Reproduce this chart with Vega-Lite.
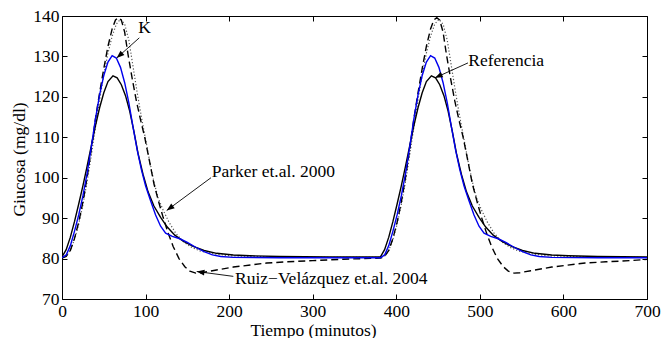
{
  "$schema": "https://vega.github.io/schema/vega-lite/v6.json",
  "autosize": {"type": "none"},
  "padding": {"left": 62, "top": 16, "right": 14, "bottom": 39},
  "width": 585,
  "height": 283,
  "background": "white",
  "config": {
    "view": {"stroke": "black", "strokeWidth": 1},
    "font": "Liberation Serif",
    "axis": {
      "labelFont": "Liberation Serif",
      "titleFont": "Liberation Serif",
      "labelFontSize": 17.5,
      "titleFontSize": 17.5,
      "titleFontWeight": "normal",
      "labelColor": "black",
      "titleColor": "black",
      "tickColor": "black",
      "tickWidth": 1,
      "tickSize": -5,
      "labelPadding": 8,
      "domain": false,
      "grid": false,
      "labelFlush": false,
      "labelOverlap": false
    }
  },
  "datasets": {
    "ref": [
      {"t":0,"v":80.4},{"t":5,"v":82.2},{"t":10,"v":85.3},{"t":15,"v":89.2},{"t":20,"v":93.5},{"t":25,"v":98},{"t":30,"v":102.8},{"t":35,"v":107.8},{"t":40,"v":112.8},{"t":45,"v":117.3},{"t":50,"v":121},{"t":55,"v":123.8},{"t":61,"v":125.2},{"t":66,"v":124.7},{"t":71,"v":123},{"t":76,"v":120.3},{"t":81,"v":116.5},{"t":86,"v":111.5},{"t":91,"v":106},{"t":97,"v":100.8},{"t":103,"v":96.5},{"t":110,"v":93},{"t":118,"v":90.2},{"t":126,"v":87.8},{"t":135,"v":85.8},{"t":145,"v":84.3},{"t":157,"v":83},{"t":170,"v":82},{"t":185,"v":81.3},{"t":205,"v":80.9},{"t":225,"v":80.7},{"t":260,"v":80.5},{"t":320,"v":80.4},
      {"t":381,"v":80.4},{"t":386,"v":82.2},{"t":391,"v":85.3},{"t":396,"v":89.2},{"t":401,"v":93.5},{"t":406,"v":98},{"t":411,"v":102.8},{"t":416,"v":107.8},{"t":421,"v":112.8},{"t":426,"v":117.3},{"t":431,"v":121},{"t":436,"v":123.8},{"t":442,"v":125.2},{"t":447,"v":124.7},{"t":452,"v":123},{"t":457,"v":120.3},{"t":462,"v":116.5},{"t":467,"v":111.5},{"t":472,"v":106},{"t":478,"v":100.8},{"t":484,"v":96.5},{"t":491,"v":93},{"t":499,"v":90.2},{"t":507,"v":87.8},{"t":516,"v":85.8},{"t":526,"v":84.3},{"t":538,"v":83},{"t":551,"v":82},{"t":566,"v":81.3},{"t":586,"v":80.9},{"t":606,"v":80.7},{"t":641,"v":80.5},{"t":700,"v":80.4}
    ],
    "k": [
      {"t":0,"v":80.2},{"t":5,"v":80.9},{"t":10,"v":83.2},{"t":15,"v":86.8},{"t":20,"v":90.8},{"t":25,"v":95.5},{"t":30,"v":101},{"t":35,"v":107.5},{"t":40,"v":114.5},{"t":45,"v":120.5},{"t":50,"v":125.3},{"t":55,"v":128.6},{"t":60,"v":130.2},{"t":65,"v":129.6},{"t":70,"v":127.3},{"t":75,"v":123.5},{"t":80,"v":118.5},{"t":85,"v":112.5},{"t":90,"v":106.8},{"t":95,"v":102},{"t":100,"v":98},{"t":106,"v":94.3},{"t":112,"v":90.8},{"t":118,"v":88},{"t":124,"v":86.3},{"t":132,"v":85.5},{"t":141,"v":84.9},{"t":150,"v":84},{"t":160,"v":82.8},{"t":170,"v":81.7},{"t":180,"v":80.9},{"t":190,"v":80.5},{"t":205,"v":80.3},{"t":260,"v":80.2},
      {"t":381,"v":80.2},{"t":386,"v":80.9},{"t":391,"v":83.2},{"t":396,"v":86.8},{"t":401,"v":90.8},{"t":406,"v":95.5},{"t":411,"v":101},{"t":416,"v":107.5},{"t":421,"v":114.5},{"t":426,"v":120.5},{"t":431,"v":125.3},{"t":436,"v":128.6},{"t":441,"v":130.2},{"t":446,"v":129.6},{"t":451,"v":127.3},{"t":456,"v":123.5},{"t":461,"v":118.5},{"t":466,"v":112.5},{"t":471,"v":106.8},{"t":476,"v":102},{"t":481,"v":98},{"t":487,"v":94.3},{"t":493,"v":90.8},{"t":499,"v":88},{"t":505,"v":86.3},{"t":513,"v":85.5},{"t":522,"v":84.9},{"t":531,"v":84},{"t":541,"v":82.8},{"t":551,"v":81.7},{"t":561,"v":80.9},{"t":571,"v":80.5},{"t":586,"v":80.3},{"t":641,"v":80.2},{"t":700,"v":80.2}
    ],
    "ruiz": [
      {"t":0,"v":80.1},{"t":5,"v":80.5},{"t":10,"v":82},{"t":15,"v":85},{"t":20,"v":89},{"t":25,"v":94},{"t":30,"v":100},{"t":35,"v":107},{"t":40,"v":114.5},{"t":45,"v":121},{"t":50,"v":127},{"t":55,"v":132.5},{"t":60,"v":136.8},{"t":64,"v":139},{"t":67.5,"v":139.6},{"t":71,"v":139},{"t":75,"v":136},{"t":79,"v":130.5},{"t":84,"v":124.5},{"t":89,"v":119},{"t":94,"v":114.3},{"t":99,"v":110},{"t":104.5,"v":104.3},{"t":110,"v":98.5},{"t":116,"v":93.8},{"t":121,"v":90.2},{"t":127,"v":86.3},{"t":133,"v":83},{"t":140,"v":80},{"t":147,"v":78},{"t":153,"v":76.9},{"t":160,"v":76.4},{"t":167,"v":76.5},{"t":180,"v":77},{"t":205,"v":77.9},{"t":245,"v":78.9},{"t":270,"v":79.2},{"t":300,"v":79.5},{"t":345,"v":79.9},
      {"t":381,"v":80.1},{"t":386,"v":80.5},{"t":391,"v":82},{"t":396,"v":85},{"t":401,"v":89},{"t":406,"v":94},{"t":411,"v":100},{"t":416,"v":107},{"t":421,"v":114.5},{"t":426,"v":121},{"t":431,"v":127},{"t":436,"v":132.5},{"t":441,"v":136.8},{"t":445,"v":139},{"t":448.5,"v":139.6},{"t":452,"v":139},{"t":456,"v":136},{"t":460,"v":130.5},{"t":465,"v":124.5},{"t":470,"v":119},{"t":475,"v":114.3},{"t":480,"v":110},{"t":485.5,"v":104.3},{"t":491,"v":98.5},{"t":497,"v":93.8},{"t":502,"v":90.2},{"t":508,"v":86.3},{"t":514,"v":83},{"t":521,"v":80},{"t":528,"v":78},{"t":534,"v":76.9},{"t":541,"v":76.4},{"t":548,"v":76.5},{"t":561,"v":77},{"t":586,"v":77.9},{"t":626,"v":78.9},{"t":651,"v":79.2},{"t":681,"v":79.5},{"t":700,"v":79.8}
    ],
    "parker": [
      {"t":0,"v":80.3},{"t":5,"v":80.6},{"t":10,"v":82},{"t":15,"v":84.8},{"t":20,"v":88.5},{"t":25,"v":93.3},{"t":30,"v":99},{"t":35,"v":105.5},{"t":40,"v":112.5},{"t":45,"v":119.3},{"t":50,"v":125.5},{"t":55,"v":130.8},{"t":60,"v":135},{"t":65,"v":138},{"t":70,"v":139.2},{"t":75,"v":138},{"t":80,"v":134},{"t":85,"v":127.5},{"t":90,"v":121},{"t":95,"v":115},{"t":100,"v":109.5},{"t":105,"v":104},{"t":110,"v":99},{"t":115,"v":95},{"t":121,"v":92},{"t":128,"v":89},{"t":136,"v":86.3},{"t":145,"v":84.2},{"t":155,"v":82.8},{"t":165,"v":81.9},{"t":180,"v":81.2},{"t":200,"v":80.7},{"t":230,"v":80.5},{"t":280,"v":80.3},
      {"t":381,"v":80.3},{"t":386,"v":80.6},{"t":391,"v":82},{"t":396,"v":84.8},{"t":401,"v":88.5},{"t":406,"v":93.3},{"t":411,"v":99},{"t":416,"v":105.5},{"t":421,"v":112.5},{"t":426,"v":119.3},{"t":431,"v":125.5},{"t":436,"v":130.8},{"t":441,"v":135},{"t":446,"v":138},{"t":451,"v":139.2},{"t":456,"v":138},{"t":461,"v":134},{"t":466,"v":127.5},{"t":471,"v":121},{"t":476,"v":115},{"t":481,"v":109.5},{"t":486,"v":104},{"t":491,"v":99},{"t":496,"v":95},{"t":502,"v":92},{"t":509,"v":89},{"t":517,"v":86.3},{"t":526,"v":84.2},{"t":536,"v":82.8},{"t":546,"v":81.9},{"t":561,"v":81.2},{"t":581,"v":80.7},{"t":611,"v":80.5},{"t":661,"v":80.3},{"t":700,"v":80.3}
    ],
    "ann": [
      {"label":"K","tx":91.3,"ty":135.8,"x1":92.5,"y1":134.6,"x2":65.4,"y2":129.6,"ang":138.5},
      {"label":"Referencia","tx":486.2,"ty":127.6,"x1":485.8,"y1":128.4,"x2":446.3,"y2":124.7,"ang":155.1},
      {"label":"Parker et.al. 2000","tx":179.1,"ty":100.3,"x1":178.3,"y1":100,"x2":125.3,"y2":91.9,"ang":143.6},
      {"label":"Ruiz−Velázquez et.al. 2004","tx":207,"ty":73.7,"x1":205,"y1":75.6,"x2":161.2,"y2":76.8,"ang":187.8}
    ]
  },
  "layer": [
    {
      "data": {"name": "parker"},
      "mark": {"type": "line", "color": "#555555", "strokeWidth": 1.2, "strokeDash": [1.2, 2], "clip": true},
      "encoding": {
        "x": {"field": "t", "type": "quantitative", "scale": {"domain": [0, 700], "nice": false, "zero": false},
              "axis": {"orient": "bottom", "values": [0,100,200,300,400,500,600,700], "title": "Tiempo (minutos)", "titleX": 251, "titleY": 36, "titleBaseline": "alphabetic", "titleAlign": "center", "titleAnchor": null}},
        "y": {"field": "v", "type": "quantitative", "scale": {"domain": [70, 140], "nice": false, "zero": false},
              "axis": {"orient": "left", "values": [70,80,90,100,110,120,130,140], "title": "Giucosa (mg/dl)", "titleAngle": -90, "titleX": -38, "titleY": 143, "titleAlign": "center", "titleBaseline": "alphabetic", "titleAnchor": null}}
      }
    },
    {
      "data": {"name": "ruiz"},
      "mark": {"type": "line", "color": "black", "strokeWidth": 1.4, "strokeDash": [7, 4], "clip": true},
      "encoding": {
        "x": {"field": "t", "type": "quantitative", "scale": {"domain": [0, 700], "nice": false, "zero": false},
              "axis": {"orient": "top", "values": [0,100,200,300,400,500,600,700], "labels": false, "title": null}},
        "y": {"field": "v", "type": "quantitative", "scale": {"domain": [70, 140], "nice": false, "zero": false},
              "axis": {"orient": "right", "values": [70,80,90,100,110,120,130,140], "labels": false, "title": null}}
      }
    },
    {
      "data": {"name": "ref"},
      "mark": {"type": "line", "color": "black", "strokeWidth": 1.4, "clip": true},
      "encoding": {
        "x": {"field": "t", "type": "quantitative", "scale": {"domain": [0, 700], "nice": false, "zero": false}, "axis": null},
        "y": {"field": "v", "type": "quantitative", "scale": {"domain": [70, 140], "nice": false, "zero": false}, "axis": null}
      }
    },
    {
      "data": {"name": "k"},
      "mark": {"type": "line", "color": "#0000ee", "strokeWidth": 1.4, "clip": true},
      "encoding": {
        "x": {"field": "t", "type": "quantitative", "scale": {"domain": [0, 700], "nice": false, "zero": false}, "axis": null},
        "y": {"field": "v", "type": "quantitative", "scale": {"domain": [70, 140], "nice": false, "zero": false}, "axis": null}
      }
    },
    {
      "data": {"name": "ann"},
      "mark": {"type": "rule", "color": "black", "strokeWidth": 0.9},
      "encoding": {
        "x": {"field": "x1", "type": "quantitative", "scale": {"domain": [0, 700], "nice": false, "zero": false}, "axis": null},
        "y": {"field": "y1", "type": "quantitative", "scale": {"domain": [70, 140], "nice": false, "zero": false}, "axis": null},
        "x2": {"field": "x2"},
        "y2": {"field": "y2"}
      }
    },
    {
      "data": {"name": "ann"},
      "mark": {"type": "point", "shape": "M0,0L-1,-0.38L-1,0.38Z", "filled": true, "color": "black", "opacity": 1, "size": 240, "strokeWidth": 0},
      "encoding": {
        "x": {"field": "x2", "type": "quantitative", "scale": {"domain": [0, 700], "nice": false, "zero": false}, "axis": null},
        "y": {"field": "y2", "type": "quantitative", "scale": {"domain": [70, 140], "nice": false, "zero": false}, "axis": null},
        "angle": {"field": "ang", "type": "quantitative", "scale": null}
      }
    },
    {
      "data": {"name": "ann"},
      "mark": {"type": "text", "font": "Liberation Serif", "fontSize": 17.5, "align": "left", "baseline": "alphabetic", "color": "black"},
      "encoding": {
        "x": {"field": "tx", "type": "quantitative", "scale": {"domain": [0, 700], "nice": false, "zero": false}, "axis": null},
        "y": {"field": "ty", "type": "quantitative", "scale": {"domain": [70, 140], "nice": false, "zero": false}, "axis": null},
        "text": {"field": "label"}
      }
    }
  ],
  "resolve": {"axis": {"x": "independent", "y": "independent"}}
}
